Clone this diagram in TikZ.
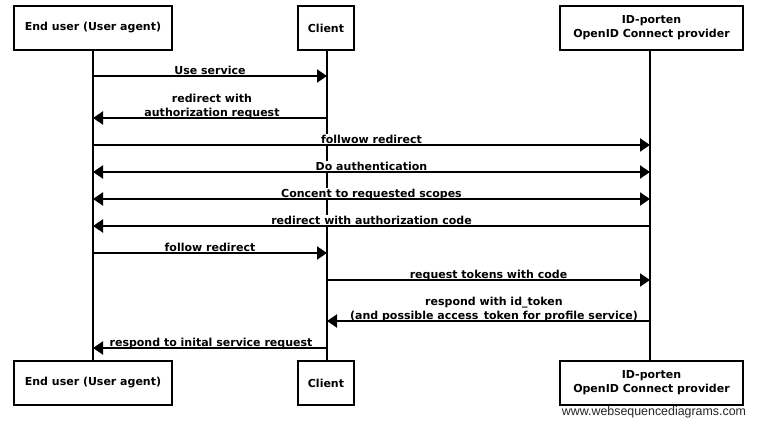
\documentclass[tikz,border=0pt]{standalone}
\usepackage{fontspec}
\setmainfont{DejaVu Sans}
\newfontfamily\wsdfont{Liberation Sans}
\usetikzlibrary{arrows.meta}
\begin{document}
\begin{tikzpicture}[x=1pt,y=-1pt,
  actor/.style={draw,line width=2pt,fill=white,minimum height=44pt,inner sep=0pt,align=center,
    font=\bfseries\fontsize{11}{14}\selectfont},
  life/.style={line width=2pt},
  msg/.style={line width=2pt,-{Triangle[length=10pt,width=13pt]}},
  msgboth/.style={line width=2pt,{Triangle[length=10pt,width=13pt]}-{Triangle[length=10pt,width=13pt]}},
  lbl/.style={fill=white,inner xsep=2pt,inner ysep=1pt,text depth=0pt,align=center,anchor=south,
    font=\bfseries\fontsize{11}{14}\selectfont}]
\useasboundingbox[fill=white] (0,0) rectangle (758,427);

% actors
\node[actor,minimum width=158pt] (A)  at (93,28)  {End user (User agent)};
\node[actor,minimum width=56pt]  (B)  at (326,28) {Client};
\node[actor,minimum width=183pt] (C)  at (651.5,28) {ID-porten\\OpenID Connect provider};
\node[actor,minimum width=158pt] (A2) at (93,383)  {End user (User agent)};
\node[actor,minimum width=56pt]  (B2) at (326,383) {Client};
\node[actor,minimum width=183pt] (C2) at (651.5,383) {ID-porten\\OpenID Connect provider};

% lifelines
\coordinate (a) at (93,0);
\coordinate (b) at (327,0);
\coordinate (c) at (650,0);
\draw[life] (a |- A.south) -- (a |- A2.north);
\draw[life] (b |- B.south) -- (b |- B2.north);
\draw[life] (c |- C.south) -- (c |- C2.north);

% labels
\node[lbl] (l1)  at (210,76)  {Use service};
\node[lbl] (l2)  at (212,118) {redirect with\\authorization request};
\node[lbl] (l3)  at (371.5,145) {follwow redirect};
\node[lbl] (l4)  at (371.5,172) {Do authentication};
\node[lbl] (l5)  at (371.5,199) {Concent to requested scopes};
\node[lbl] (l6)  at (371.5,226) {redirect with authorization code};
\node[lbl] (l7)  at (210,253) {follow redirect};
\node[lbl] (l8)  at (488.5,280) {request tokens with code};
\node[lbl] (l9)  at (494,321) {respond with id\_token\\(and possible access\_token for profile service)};
\node[lbl] (l10) at (211,348) {respond to inital service request};

% messages
\draw[msg]     (a |- 0,76)  -- (b |- 0,76);
\draw[msg]     (b |- 0,118) -- (a |- 0,118);
\draw[msg]     (a |- 0,145) -- (c |- 0,145);
\draw[msgboth] (a |- 0,172) -- (c |- 0,172);
\draw[msgboth] (a |- 0,199) -- (c |- 0,199);
\draw[msg]     (c |- 0,226) -- (a |- 0,226);
\draw[msg]     (a |- 0,253) -- (b |- 0,253);
\draw[msg]     (b |- 0,280) -- (c |- 0,280);
\draw[msg]     (c |- 0,321) -- (b |- 0,321);
\draw[msg]     (b |- 0,348) -- (a |- 0,348);

% watermark
\node[font=\wsdfont\fontsize{12.4}{14}\selectfont,text=black!85,inner sep=0pt] (wm) at (654,412) {www.websequencediagrams.com};
\end{tikzpicture}
\end{document}
